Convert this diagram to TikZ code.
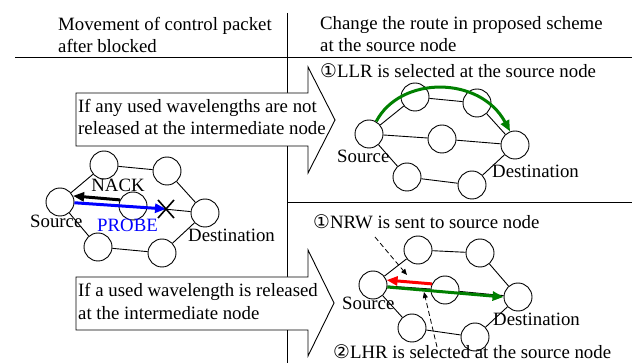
\documentclass[tikz,border=0pt]{standalone}
\usepackage{fontspec}
\setmainfont{Liberation Serif}
\newfontfamily\circfont{DejaVu Sans}
\usetikzlibrary{arrows.meta}
\definecolor{dkgreen}{RGB}{0,128,0}
\begin{document}
\begin{tikzpicture}[x=1pt,y=-1pt,
  every node/.style={font=\fontsize{18.8}{22}\selectfont, inner sep=0pt},
  txt/.style={anchor=base west},
  nd/.style={circle,draw,minimum size=28pt,line width=0.9pt,fill=white},
  edge/.style={line width=0.9pt},
  rule/.style={line width=1pt},
  bigarrow/.style={draw,fill=white,line width=0.9pt,line join=miter},
  thickarr/.style={line width=3pt,-{Triangle[length=11pt,width=9pt]}},
  dasharr/.style={line width=0.8pt,dash pattern=on 5pt off 3pt,-{Triangle[length=6pt,width=5pt]}},
  xmark/.style={line width=1.6pt},
]
\useasboundingbox (0,0) rectangle (632,363);

% table rules
\draw[rule] (287,13) -- (287,363);
\draw[rule] (15,58) -- (632,58);
\draw[rule] (287,203) -- (632,203);

% header texts
\node[txt] (h1) at (58,31) {Movement of control packet};
\node[txt] (h2) at (58,53) {after blocked};
\node[txt] (h3) at (320,30) {Change the route in proposed scheme};
\node[txt] (h4) at (320,52) {at the source node};

% big arrows
\draw[bigarrow] (76,93) -- (308,93) -- (308,67) -- (335,120) -- (308,173) -- (308,146) -- (76,146) -- cycle;
\draw[bigarrow] (76,277) -- (308,277) -- (308,250) -- (334,303) -- (308,356) -- (308,330) -- (76,330) -- cycle;
\node[txt] (a1) at (78,113) {If any used wavelengths are not};
\node[txt] (a2) at (78,135) {released at the intermediate node};
\node[txt] (a3) at (78,297) {If a used wavelength is released};
\node[txt] (a4) at (78,320) {at the intermediate node};

% ---------- left graph ----------
\node[nd] (lS) at (60,202) {};
\node[nd] (lT1) at (104,165) {};
\node[nd] (lT2) at (167,171) {};
\node[nd] (lM) at (133,206) {};
\node[nd] (lD) at (205,213) {};
\node[nd] (lB1) at (98,247) {};
\node[nd] (lB2) at (162,253) {};
\draw[edge] (lS) -- (lT1) (lT1) -- (lT2) (lT2) -- (lD) (lM) -- (lD)
            (lS) -- (lB1) (lB1) -- (lB2) (lB2) -- (lD);
\coordinate (X) at (166,209);
\draw[thickarr] (lM.155) -- (lS.25);
\draw[thickarr,blue] (lS.-3) -- (X);
\draw[xmark] (X) ++(-8,-9) -- ++(16,18) (X) ++(8,-9) -- ++(-16,18);
\node[anchor=base] (nack) at (118,192) {NACK};
\node[txt,text=blue] (probe) at (97,232) {PROBE};
\node[txt] (lsrc) at (30,228) {Source};
\node[txt] (ldst) at (188,242) {Destination};

% ---------- right top graph ----------
\node[txt] (t1) at (320,78) {{\circfont ①}LLR is selected at the source node};
\node[nd] (aS) at (369,134) {};
\node[nd] (aT1) at (415,97) {};
\node[nd] (aT2) at (477,103) {};
\node[nd] (aM) at (442,139) {};
\node[nd] (aD) at (515,145) {};
\node[nd] (aB1) at (407,177) {};
\node[nd] (aB2) at (472,185) {};
\draw[edge] (aS) -- (aT1) (aT1) -- (aT2) (aT2) -- (aD) (aS) -- (aM) (aM) -- (aD)
            (aS) -- (aB1) (aB1) -- (aB2) (aB2) -- (aD);
\draw[thickarr,dkgreen] (aS.60) .. controls +(24,-46) and +(-30,-56) .. (aD.110);
\node[txt] (asrc) at (337,163) {Source};
\node[txt] (adst) at (492,178) {Destination};

% ---------- right bottom graph ----------
\node[txt] (t2) at (313,229) {{\circfont ①}NRW is sent to source node};
\node[nd] (bS) at (373,285) {};
\node[nd] (bT1) at (418,250) {};
\node[nd] (bT2) at (480,253) {};
\node[nd] (bM) at (445,290) {};
\node[nd] (bD) at (518,297) {};
\node[nd] (bB1) at (412,328) {};
\node[nd] (bB2) at (475,337) {};
\draw[edge] (bS) -- (bT1) (bT1) -- (bT2) (bT2) -- (bD) (bS) -- (bM) (bM) -- (bD)
            (bS) -- (bB1) (bB1) -- (bB2) (bB2) -- (bD);
\draw[thickarr,red] (bM.155) -- (bS.20);
\draw[thickarr,dkgreen] (bS.-8) -- (bD.180);
\coordinate (d1s) at (375,237);
\coordinate (d1e) at (407,275);
\coordinate (d2s) at (437,347);
\coordinate (d2e) at (424,292);
\draw[dasharr] (d1s) -- (d1e);
\draw[dasharr] (d2s) -- (d2e);
\node[txt] (bsrc) at (342,310) {Source};
\node[txt] (bdst) at (493,326) {Destination};
\node[txt] (t3) at (333,359) {{\circfont ②}LHR is selected at the source node};
\end{tikzpicture}
\end{document}
